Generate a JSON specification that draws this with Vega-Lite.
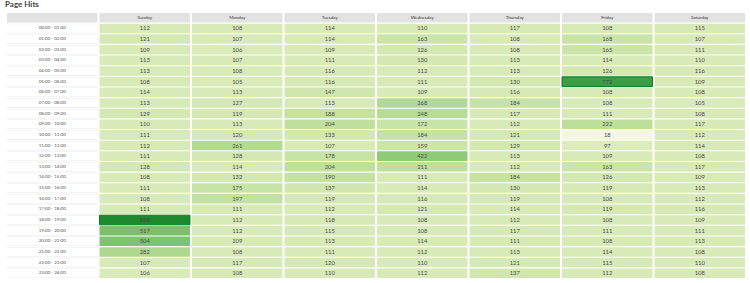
{
  "$schema": "https://vega.github.io/schema/vega-lite/v6.json",
  "width": 738,
  "height": 265,
  "autosize": "none",
  "padding": {"left": 7, "top": 13, "right": 5, "bottom": 5},
  "background": "white",
  "title": {"text": "Page Hits", "anchor": "start", "fontSize": 8, "font": "Lato", "fontWeight": "bold", "color": "#444444", "offset": 4, "dx": -2},
  "config": {"view": {"stroke": null}, "axis": {"disable": true}},
  "datasets": {
    "days": [
      {"day": "Hour", "label": ""},
      {"day": "Sunday", "label": "Sunday"},
      {"day": "Monday", "label": "Monday"},
      {"day": "Tuesday", "label": "Tuesday"},
      {"day": "Wednesday", "label": "Wednesday"},
      {"day": "Thursday", "label": "Thursday"},
      {"day": "Friday", "label": "Friday"},
      {"day": "Saturday", "label": "Saturday"}
    ],
    "table": [
      {"hour": "00:00 - 01:00", "Sunday": 112, "Monday": 108, "Tuesday": 114, "Wednesday": 110, "Thursday": 117, "Friday": 108, "Saturday": 115},
      {"hour": "01:00 - 02:00", "Sunday": 121, "Monday": 107, "Tuesday": 114, "Wednesday": 163, "Thursday": 108, "Friday": 168, "Saturday": 107},
      {"hour": "02:00 - 03:00", "Sunday": 109, "Monday": 106, "Tuesday": 109, "Wednesday": 126, "Thursday": 108, "Friday": 165, "Saturday": 111},
      {"hour": "03:00 - 04:00", "Sunday": 113, "Monday": 107, "Tuesday": 111, "Wednesday": 130, "Thursday": 113, "Friday": 114, "Saturday": 110},
      {"hour": "04:00 - 05:00", "Sunday": 113, "Monday": 108, "Tuesday": 116, "Wednesday": 112, "Thursday": 113, "Friday": 126, "Saturday": 116},
      {"hour": "05:00 - 06:00", "Sunday": 108, "Monday": 105, "Tuesday": 116, "Wednesday": 111, "Thursday": 130, "Friday": 772, "Saturday": 109},
      {"hour": "06:00 - 07:00", "Sunday": 114, "Monday": 113, "Tuesday": 147, "Wednesday": 109, "Thursday": 116, "Friday": 108, "Saturday": 108},
      {"hour": "07:00 - 08:00", "Sunday": 113, "Monday": 127, "Tuesday": 113, "Wednesday": 268, "Thursday": 184, "Friday": 108, "Saturday": 105},
      {"hour": "08:00 - 09:00", "Sunday": 129, "Monday": 119, "Tuesday": 188, "Wednesday": 248, "Thursday": 117, "Friday": 111, "Saturday": 108},
      {"hour": "09:00 - 10:00", "Sunday": 110, "Monday": 113, "Tuesday": 204, "Wednesday": 172, "Thursday": 112, "Friday": 222, "Saturday": 117},
      {"hour": "10:00 - 11:00", "Sunday": 111, "Monday": 120, "Tuesday": 133, "Wednesday": 184, "Thursday": 121, "Friday": 18, "Saturday": 112},
      {"hour": "11:00 - 12:00", "Sunday": 112, "Monday": 261, "Tuesday": 107, "Wednesday": 159, "Thursday": 129, "Friday": 97, "Saturday": 114},
      {"hour": "12:00 - 13:00", "Sunday": 111, "Monday": 128, "Tuesday": 178, "Wednesday": 422, "Thursday": 113, "Friday": 109, "Saturday": 108},
      {"hour": "13:00 - 14:00", "Sunday": 128, "Monday": 114, "Tuesday": 204, "Wednesday": 211, "Thursday": 112, "Friday": 163, "Saturday": 117},
      {"hour": "14:00 - 15:00", "Sunday": 108, "Monday": 132, "Tuesday": 190, "Wednesday": 111, "Thursday": 184, "Friday": 126, "Saturday": 109},
      {"hour": "15:00 - 16:00", "Sunday": 111, "Monday": 175, "Tuesday": 137, "Wednesday": 114, "Thursday": 130, "Friday": 119, "Saturday": 113},
      {"hour": "16:00 - 17:00", "Sunday": 108, "Monday": 197, "Tuesday": 119, "Wednesday": 116, "Thursday": 119, "Friday": 108, "Saturday": 112},
      {"hour": "17:00 - 18:00", "Sunday": 111, "Monday": 111, "Tuesday": 112, "Wednesday": 121, "Thursday": 114, "Friday": 119, "Saturday": 116},
      {"hour": "18:00 - 19:00", "Sunday": 888, "Monday": 112, "Tuesday": 118, "Wednesday": 108, "Thursday": 112, "Friday": 108, "Saturday": 109},
      {"hour": "19:00 - 20:00", "Sunday": 517, "Monday": 112, "Tuesday": 115, "Wednesday": 108, "Thursday": 117, "Friday": 111, "Saturday": 111},
      {"hour": "20:00 - 21:00", "Sunday": 504, "Monday": 109, "Tuesday": 113, "Wednesday": 114, "Thursday": 111, "Friday": 108, "Saturday": 113},
      {"hour": "21:00 - 22:00", "Sunday": 282, "Monday": 108, "Tuesday": 111, "Wednesday": 112, "Thursday": 113, "Friday": 114, "Saturday": 108},
      {"hour": "22:00 - 23:00", "Sunday": 107, "Monday": 117, "Tuesday": 120, "Wednesday": 110, "Thursday": 121, "Friday": 115, "Saturday": 110},
      {"hour": "23:00 - 24:00", "Sunday": 106, "Monday": 108, "Tuesday": 110, "Wednesday": 112, "Thursday": 137, "Friday": 112, "Saturday": 108}
    ]
  },
  "encoding": {
    "x": {"field": "day", "type": "nominal", "axis": null,
      "scale": {"domain": ["Hour", "Sunday", "Monday", "Tuesday", "Wednesday", "Thursday", "Friday", "Saturday"], "paddingInner": 0.022, "paddingOuter": 0}},
    "y": {"field": "hour", "type": "nominal", "axis": null,
      "scale": {"domain": ["header", "00:00 - 01:00", "01:00 - 02:00", "02:00 - 03:00", "03:00 - 04:00", "04:00 - 05:00", "05:00 - 06:00", "06:00 - 07:00", "07:00 - 08:00", "08:00 - 09:00", "09:00 - 10:00", "10:00 - 11:00", "11:00 - 12:00", "12:00 - 13:00", "13:00 - 14:00", "14:00 - 15:00", "15:00 - 16:00", "16:00 - 17:00", "17:00 - 18:00", "18:00 - 19:00", "19:00 - 20:00", "20:00 - 21:00", "21:00 - 22:00", "22:00 - 23:00", "23:00 - 24:00"], "paddingInner": 0.1, "paddingOuter": 0}}
  },
  "layer": [
    {
      "data": {"name": "days"},
      "mark": {"type": "rect", "fill": "#e2e2e2", "cornerRadius": 1},
      "encoding": {"y": {"datum": "header", "type": "nominal"}}
    },
    {
      "data": {"name": "days"},
      "mark": {"type": "text", "font": "Lato", "fontSize": 4.5, "color": "#333333"},
      "encoding": {"y": {"datum": "header", "type": "nominal"}, "text": {"field": "label"}}
    },
    {
      "data": {"name": "table"},
      "mark": {"type": "rect", "fill": "#ebebeb"},
      "encoding": {"x": {"datum": "Hour", "type": "nominal"}}
    },
    {
      "data": {"name": "table"},
      "mark": {"type": "rect", "fill": "white", "height": 8.6},
      "encoding": {"x": {"datum": "Hour", "type": "nominal"}}
    },
    {
      "data": {"name": "table"},
      "mark": {"type": "text", "font": "Lato", "fontSize": 4.5, "color": "#555555"},
      "encoding": {"x": {"datum": "Hour", "type": "nominal"}, "text": {"field": "hour"}}
    },
    {
      "data": {"name": "table"},
      "transform": [{"fold": ["Sunday", "Monday", "Tuesday", "Wednesday", "Thursday", "Friday", "Saturday"], "as": ["day", "hits"]}],
      "mark": {"type": "rect", "strokeWidth": 1},
      "encoding": {
        "color": {"field": "hits", "type": "quantitative", "legend": null,
          "scale": {"type": "linear", "domain": [18, 110, 220, 420, 510, 772, 888], "range": ["#f4f7dc", "#d8eab8", "#bcdf9a", "#8fca77", "#7dc26d", "#35a046", "#1d8a2e"]}},
        "stroke": {"condition": {"test": "datum.hits > 700", "value": "#0d7a22"}, "value": null}
      }
    },
    {
      "data": {"name": "table"},
      "transform": [{"fold": ["Sunday", "Monday", "Tuesday", "Wednesday", "Thursday", "Friday", "Saturday"], "as": ["day", "hits"]}],
      "mark": {"type": "text", "font": "Lato", "fontSize": 5.8, "color": "#4a4a4a"},
      "encoding": {"text": {"field": "hits", "type": "quantitative"}}
    }
  ]
}
